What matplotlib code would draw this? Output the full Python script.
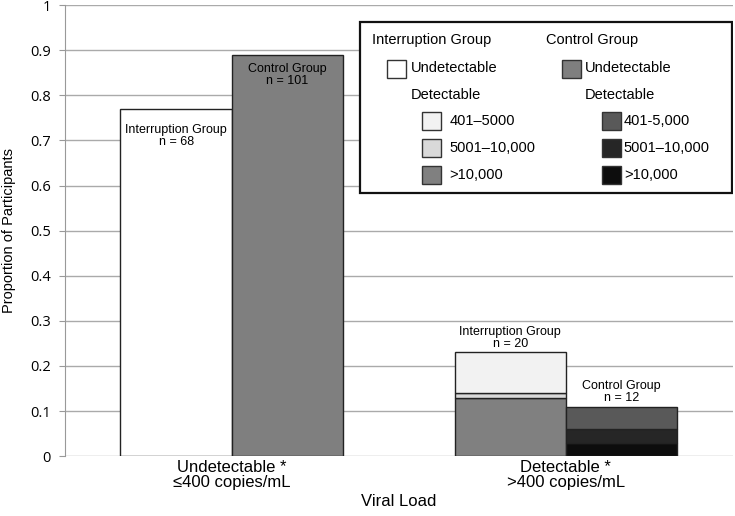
import matplotlib
matplotlib.use('Agg')
import matplotlib.pyplot as plt
from matplotlib.patches import Rectangle
import numpy as np

plt.rcParams['font.family'] = ['Liberation Sans', 'DejaVu Sans']

categories = ['Undetectable *\n\u2264400 copies/mL', 'Detectable *\n>400 copies/mL']

# undetectable proportions
int_undet = 0.77
ctl_undet = 0.89

# detectable, stacked from bottom: >10,000, 5001-10,000, 401-5000
int_det = [0.13, 0.01, 0.09]
ctl_det = [0.03, 0.03, 0.05]
int_det_labels = ['>10,000', '5001\u201310,000', '401\u20135000']
ctl_det_labels = ['>10,000', '5001\u201310,000', '401-5,000']

int_det_colours = ['#808080', '#d9d9d9', '#f2f2f2']
ctl_det_colours = ['#0d0d0d', '#262626', '#595959']
int_undet_colour = '#ffffff'
ctl_undet_colour = '#7f7f7f'

bar_notes = ['Interruption Group\nn = 68', 'Control Group\nn = 101',
             'Interruption Group\nn = 20', 'Control Group\nn = 12']

fig = plt.figure(figsize=(7.35, 5.16), dpi=100)
ax = fig.add_axes([0.088, 0.116, 0.909, 0.874])

w = 0.333
x = np.arange(len(categories))

ax.bar(x[0] - w/2, int_undet, w, color=int_undet_colour, edgecolor='#222222', linewidth=1, zorder=3)
ax.bar(x[0] + w/2, ctl_undet, w, color=ctl_undet_colour, edgecolor='#222222', linewidth=1, zorder=3)

bottom = 0
for v, c in zip(int_det, int_det_colours):
    ax.bar(x[1] - w/2, v, w, bottom=bottom, color=c, edgecolor='#222222', linewidth=1, zorder=3)
    bottom += v
int_total = bottom
bottom = 0
for v, c in zip(ctl_det, ctl_det_colours):
    ax.bar(x[1] + w/2, v, w, bottom=bottom, color=c, edgecolor='#222222', linewidth=1, zorder=3)
    bottom += v
ctl_total = bottom

note_kw = dict(ha='center', fontsize=9, linespacing=1.05, zorder=4)
ax.text(x[0] - w/2, int_undet - 0.06, bar_notes[0], va='center', **note_kw)
ax.text(x[0] + w/2, ctl_undet - 0.045, bar_notes[1], va='center', **note_kw)
ax.text(x[1] - w/2, int_total + 0.005, bar_notes[2], va='bottom', **note_kw)
ax.text(x[1] + w/2, ctl_total + 0.005, bar_notes[3], va='bottom', **note_kw)

ax.set_xlim(-0.5, 1.5)
ax.set_ylim(0, 1)
ax.set_yticks(np.arange(0, 1.01, 0.1))
ax.set_yticklabels(['0'] + ['%.1f' % v for v in np.arange(0.1, 0.95, 0.1)] + ['1'],
                   fontsize=10.5, family=['Open Sans', 'DejaVu Sans'])
ax.set_xticks(x)
ax.set_xticklabels(categories, fontsize=12, linespacing=1.0)
ax.tick_params(axis='x', length=0, pad=3)
ax.tick_params(axis='y', length=4, color='#999999', pad=6)
ax.yaxis.grid(True, color='#aaaaaa', linewidth=1, zorder=0)
for s in ['top', 'right', 'bottom']:
    ax.spines[s].set_visible(False)
ax.spines['left'].set_color('#999999')
ax.set_xlabel('Viral Load', fontsize=12, labelpad=3)
ax.set_ylabel('Proportion of Participants', fontsize=10.5, labelpad=10)

# custom legend in axes fraction coordinates
def px(xp, yp):
    # pixel -> axes fraction
    return ((xp - 65) / 668.0, (456 - yp) / 451.0)

x0, y0 = px(360, 193)
x1, y1 = px(732, 22)
ax.add_patch(Rectangle((x0, y0), x1 - x0, y1 - y0, transform=ax.transAxes,
                       facecolor='white', edgecolor='#111111', linewidth=1.6, zorder=5))

def swatch(xp, yp, colour):
    a, b = px(xp, yp + 18)
    c, d = px(xp + 19, yp)
    ax.add_patch(Rectangle((a, b), c - a, d - b, transform=ax.transAxes,
                           facecolor=colour, edgecolor='#333333', linewidth=1, zorder=6))

def label(xp, yp, s, size=10.5):
    a, b = px(xp, yp)
    ax.text(a, b, s, transform=ax.transAxes, ha='left', va='center', fontsize=size, zorder=6)

label(372, 40, 'Interruption Group')
label(546, 40, 'Control Group')
swatch(387, 60, int_undet_colour)
label(411, 68, 'Undetectable')
swatch(562, 60, ctl_undet_colour)
label(585, 68, 'Undetectable')
label(411, 95, 'Detectable')
label(585, 95, 'Detectable')
rows = [112, 139, 166]
for yp, lab, c in zip(rows, int_det_labels[::-1], int_det_colours[::-1]):
    swatch(422, yp, c)
    label(450, yp + 9, lab)
for yp, lab, c in zip(rows, ctl_det_labels[::-1], ctl_det_colours[::-1]):
    swatch(602, yp, c)
    label(624, yp + 9, lab)

fig.savefig('out.png', dpi=100)
